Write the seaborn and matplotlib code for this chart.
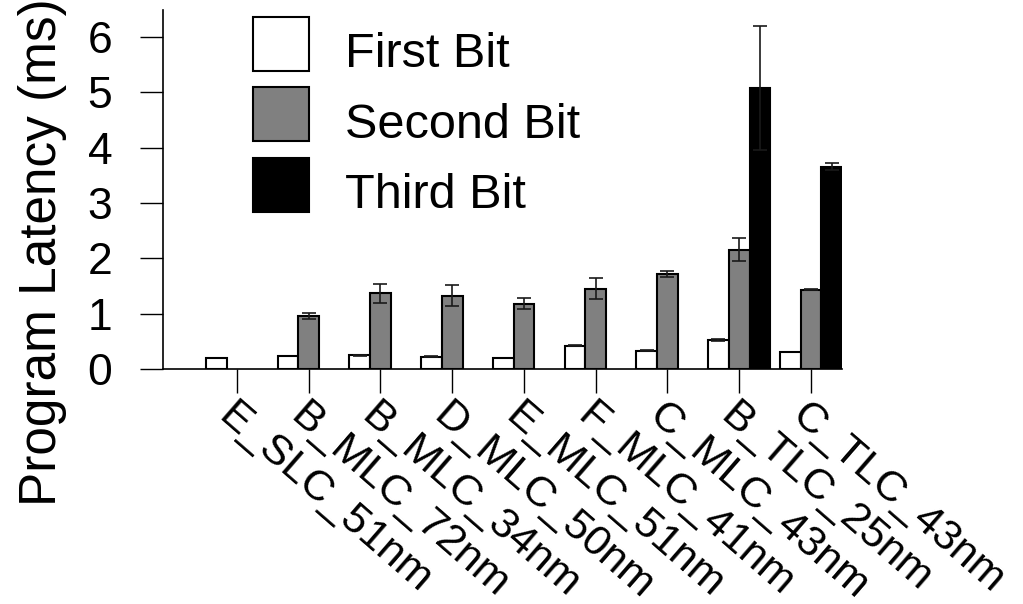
import numpy as np
import pandas as pd
import matplotlib
matplotlib.use("Agg")
import matplotlib.pyplot as plt
import matplotlib.transforms as mtransforms
from matplotlib.container import BarContainer
from matplotlib.patches import Rectangle
from matplotlib.legend_handler import HandlerPatch
import seaborn as sns

categories = ["E_SLC_51nm", "B_MLC_72nm", "B_MLC_34nm", "D_MLC_50nm", "E_MLC_51nm",
              "F_MLC_41nm", "C_MLC_43nm", "B_TLC_25nm", "C_TLC_43nm"]
series = ["First Bit", "Second Bit", "Third Bit"]
first_bit = [0.20, 0.235, 0.25, 0.22, 0.20, 0.42, 0.33, 0.52, 0.31]
first_err = [0.0, 0.0, 0.01, 0.01, 0.0, 0.01, 0.01, 0.02, 0.0]
second_bit = [np.nan, 0.96, 1.37, 1.32, 1.18, 1.45, 1.72, 2.16, 1.43]
second_err = [np.nan, 0.05, 0.17, 0.19, 0.095, 0.19, 0.055, 0.20, 0.01]
third_bit = [np.nan] * 7 + [5.08, 3.66]
third_err = [np.nan] * 7 + [1.12, 0.06]
yticks = [0, 1, 2, 3, 4, 5, 6]

values = [first_bit, second_bit, third_bit]
errors = [first_err, second_err, third_err]
colors = ["#ffffff", "#808080", "#000000"]

rows = []
for s, vals in zip(series, values):
    for c, v in zip(categories, vals):
        if not np.isnan(v):
            rows.append({"cat": c, "bit": s, "lat": v})
df = pd.DataFrame(rows)

sns.set_style("ticks")
plt.rcParams["font.family"] = ["Liberation Sans", "DejaVu Sans"]
plt.rcParams["text.color"] = "black"
plt.rcParams["axes.labelcolor"] = "black"
plt.rcParams["xtick.color"] = "black"
plt.rcParams["ytick.color"] = "black"

fig = plt.figure(figsize=(10.23, 6.04), dpi=100)
ax = fig.add_axes([163 / 1023, 1 - 369 / 604, (842 - 163) / 1023, (369 - 10) / 604])

sns.barplot(data=df, x="cat", y="lat", hue="bit", order=categories, hue_order=series,
            palette=colors, width=0.867, errorbar=None, edgecolor="black",
            linewidth=1.5, saturation=1, ax=ax, legend=True)

bar_containers = [c for c in ax.containers if isinstance(c, BarContainer)]
for i, cont in enumerate(bar_containers):
    for bar in list(cont):
        if bar is None:
            continue
        cx = bar.get_x() + bar.get_width() / 2
        h = bar.get_height()
        idx = int(round(cx))
        e = errors[i][idx]
        if e and not np.isnan(e) and e > 0:
            ax.errorbar(cx, h, yerr=e, fmt="none", ecolor="#1a1a1a", elinewidth=1.2,
                        capsize=5, capthick=1.2, zorder=3)

ax.set_xlim(-1.03, 8.433)
ax.set_ylim(0, 6.49)
ax.set_yticks(yticks)
ax.set_yticklabels([str(t) for t in yticks], fontsize=32, color="black")
ax.set_xticks(range(len(categories)))
ax.set_xticklabels(categories, rotation=-41, ha="left", va="top",
                   rotation_mode="anchor", fontsize=31, color="black")
offset = mtransforms.ScaledTranslation(8 / 100, 0, fig.dpi_scale_trans)
for lab in ax.get_xticklabels():
    lab.set_transform(lab.get_transform() + offset)

ax.tick_params(axis="y", length=16.5, width=1, pad=20, colors="black")
ax.tick_params(axis="x", length=17, width=1, pad=2, colors="black")
for sp in ["top", "right"]:
    ax.spines[sp].set_visible(False)
for sp in ["left", "bottom"]:
    ax.spines[sp].set_linewidth(1.2)
    ax.spines[sp].set_color("black")

ax.set_xlabel("")
ax.set_ylabel("Program Latency (ms)", fontsize=37, color="black")
ax.yaxis.set_label_coords(-0.141, 0.326)


def raised_patch(legend, orig_handle, xdescent, ydescent, width, height, fontsize):
    return Rectangle((-xdescent, -ydescent + 5), width, height)


handles, labels = ax.get_legend_handles_labels()
for hnd in handles:
    hnd.set_edgecolor("black")
    hnd.set_linewidth(1.5)
leg = ax.legend(handles, labels, loc="upper left", bbox_to_anchor=(253 / 1023, 1 - 24 / 604),
                bbox_transform=fig.transFigure, frameon=False, fontsize=35,
                handlelength=1.15, handleheight=1.333, handletextpad=0.75,
                labelspacing=0.335, borderpad=0, borderaxespad=0,
                handler_map={Rectangle: HandlerPatch(patch_func=raised_patch)})
for t in leg.get_texts():
    t.set_color("black")

fig.savefig("out.png", dpi=100)
